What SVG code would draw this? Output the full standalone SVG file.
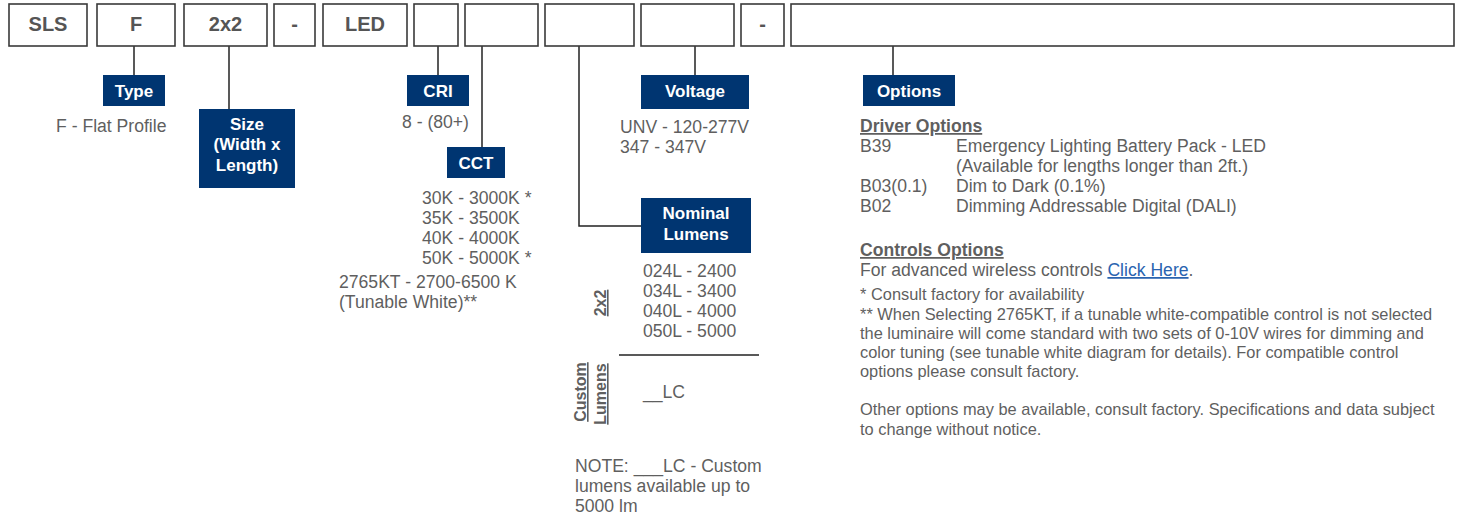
<svg xmlns="http://www.w3.org/2000/svg" width="1462" height="519" viewBox="0 0 1462 519">
<style>
.box{fill:#fff;stroke:#3a3a3a;stroke-width:1.6}
.code{font-family:"Liberation Sans",Arial,sans-serif;font-weight:bold;font-size:20px;fill:#555;text-anchor:middle}
.hdr{fill:#003571}
.ht{font-family:"Liberation Sans",Arial,sans-serif;font-weight:bold;font-size:17px;fill:#fff;text-anchor:middle}
.t{font-family:"Liberation Sans",Arial,sans-serif;font-size:17.6px;fill:#5f5f5f}
.n{font-family:"Liberation Sans",Arial,sans-serif;font-size:16.4px;fill:#5f5f5f}
.u{text-decoration:underline;font-weight:bold}
.v{font-family:"Liberation Sans",Arial,sans-serif;font-size:16px;font-weight:bold;fill:#5f5f5f;text-decoration:underline;text-anchor:middle}
.c{fill:none;stroke:#222;stroke-width:1.5}
</style>
<g id="connectors">
<path class="c" d="M134 46V75"/>
<path class="c" d="M229 46V109"/>
<path class="c" d="M438 46V75"/>
<path class="c" d="M482 46V147"/>
<path class="c" d="M579 46V226H641"/>
<path class="c" d="M695 46V75"/>
<path class="c" d="M893 46V75"/>
<path class="c" d="M619 355H759"/>
</g>
<g id="code-boxes">
<g id="box-sls"><rect class="box" x="9" y="4" width="78" height="42"/><text class="code" x="48" y="31">SLS</text></g>
<g id="box-f"><rect class="box" x="97" y="4" width="78" height="42"/><text class="code" x="136" y="31">F</text></g>
<g id="box-2x2"><rect class="box" x="184" y="4" width="83" height="42"/><text class="code" x="225.5" y="31">2x2</text></g>
<g id="box-dash1"><rect class="box" x="274" y="4" width="41" height="42"/><text class="code" x="294.5" y="31">-</text></g>
<g id="box-led"><rect class="box" x="323" y="4" width="84" height="42"/><text class="code" x="365" y="31">LED</text></g>
<g id="box-cri"><rect class="box" x="414" y="4" width="44" height="42"/></g>
<g id="box-cct"><rect class="box" x="465" y="4" width="73" height="42"/></g>
<g id="box-lumens"><rect class="box" x="545" y="4" width="89" height="42"/></g>
<g id="box-voltage"><rect class="box" x="641" y="4" width="93" height="42"/></g>
<g id="box-dash2"><rect class="box" x="741" y="4" width="43" height="42"/><text class="code" x="762.5" y="31">-</text></g>
<g id="box-options"><rect class="box" x="791" y="4" width="663" height="42"/></g>
</g>
<g id="type">
<rect class="hdr" x="103" y="75" width="62" height="31"/>
<text class="ht" x="134" y="97">Type</text>
<text class="t" x="56" y="132">F - Flat Profile</text>
</g>
<g id="size">
<rect class="hdr" x="199" y="109" width="96" height="79"/>
<text class="ht" x="247" y="130">Size</text>
<text class="ht" x="247" y="150">(Width x</text>
<text class="ht" x="247" y="171">Length)</text>
</g>
<g id="cri">
<rect class="hdr" x="407" y="75" width="62" height="31"/>
<text class="ht" x="438" y="97">CRI</text>
<text class="t" x="402" y="128">8 - (80+)</text>
</g>
<g id="cct">
<rect class="hdr" x="447" y="147" width="58" height="31"/>
<text class="ht" x="476" y="169">CCT</text>
<text class="t" x="422" y="204">30K - 3000K *</text>
<text class="t" x="422" y="224">35K - 3500K</text>
<text class="t" x="422" y="244">40K - 4000K</text>
<text class="t" x="422" y="264">50K - 5000K *</text>
<text class="t" x="339" y="288">2765KT - 2700-6500 K</text>
<text class="t" x="339" y="308">(Tunable White)**</text>
</g>
<g id="voltage">
<rect class="hdr" x="641" y="75" width="108" height="34"/>
<text class="ht" x="695" y="97">Voltage</text>
<text class="t" x="620" y="133">UNV - 120-277V</text>
<text class="t" x="620" y="153">347 - 347V</text>
</g>
<g id="nominal-lumens">
<rect class="hdr" x="641" y="198" width="110" height="55"/>
<text class="ht" x="696" y="219">Nominal</text>
<text class="ht" x="696" y="240">Lumens</text>
<text class="t" x="643" y="277">024L - 2400</text>
<text class="t" x="643" y="297">034L - 3400</text>
<text class="t" x="643" y="317">040L - 4000</text>
<text class="t" x="643" y="337">050L - 5000</text>
<text class="v" transform="translate(606,303) rotate(-90)">2x2</text>
<text class="v" transform="translate(586,392) rotate(-90)">Custom</text>
<text class="v" transform="translate(606,394) rotate(-90)">Lumens</text>
<text class="t" x="643" y="398">__LC</text>
<text class="t" x="575" y="472">NOTE: ___LC - Custom</text>
<text class="t" x="575" y="492">lumens available up to</text>
<text class="t" x="575" y="512">5000 lm</text>
</g>
<g id="options">
<rect class="hdr" x="863" y="75" width="92" height="31"/>
<text class="ht" x="909" y="97">Options</text>
<text class="t u" x="860" y="132">Driver Options</text>
<text class="t" x="860" y="152">B39</text>
<text class="t" x="956" y="152">Emergency Lighting Battery Pack - LED</text>
<text class="t" x="956" y="172">(Available for lengths longer than 2ft.)</text>
<text class="t" x="860" y="192">B03(0.1)</text>
<text class="t" x="956" y="192">Dim to Dark (0.1%)</text>
<text class="t" x="860" y="212">B02</text>
<text class="t" x="956" y="212">Dimming Addressable Digital (DALI)</text>
<text class="t u" x="860" y="256">Controls Options </text>
<text class="t" x="860" y="276">For advanced wireless controls <tspan fill="#2a64b0" text-decoration="underline">Click Here</tspan>.</text>
<text class="n" x="860" y="300">* Consult factory for availability</text>
<text class="n" x="860" y="320">** When Selecting 2765KT, if a tunable white-compatible control is not selected</text>
<text class="n" x="860" y="339">the luminaire will come standard with two sets of 0-10V wires for dimming and</text>
<text class="n" x="860" y="358">color tuning (see tunable white diagram for details). For compatible control</text>
<text class="n" x="860" y="377">options please consult factory.</text>
<text class="n" x="860" y="415">Other options may be available, consult factory. Specifications and data subject</text>
<text class="n" x="860" y="435">to change without notice.</text>
</g>
</svg>
